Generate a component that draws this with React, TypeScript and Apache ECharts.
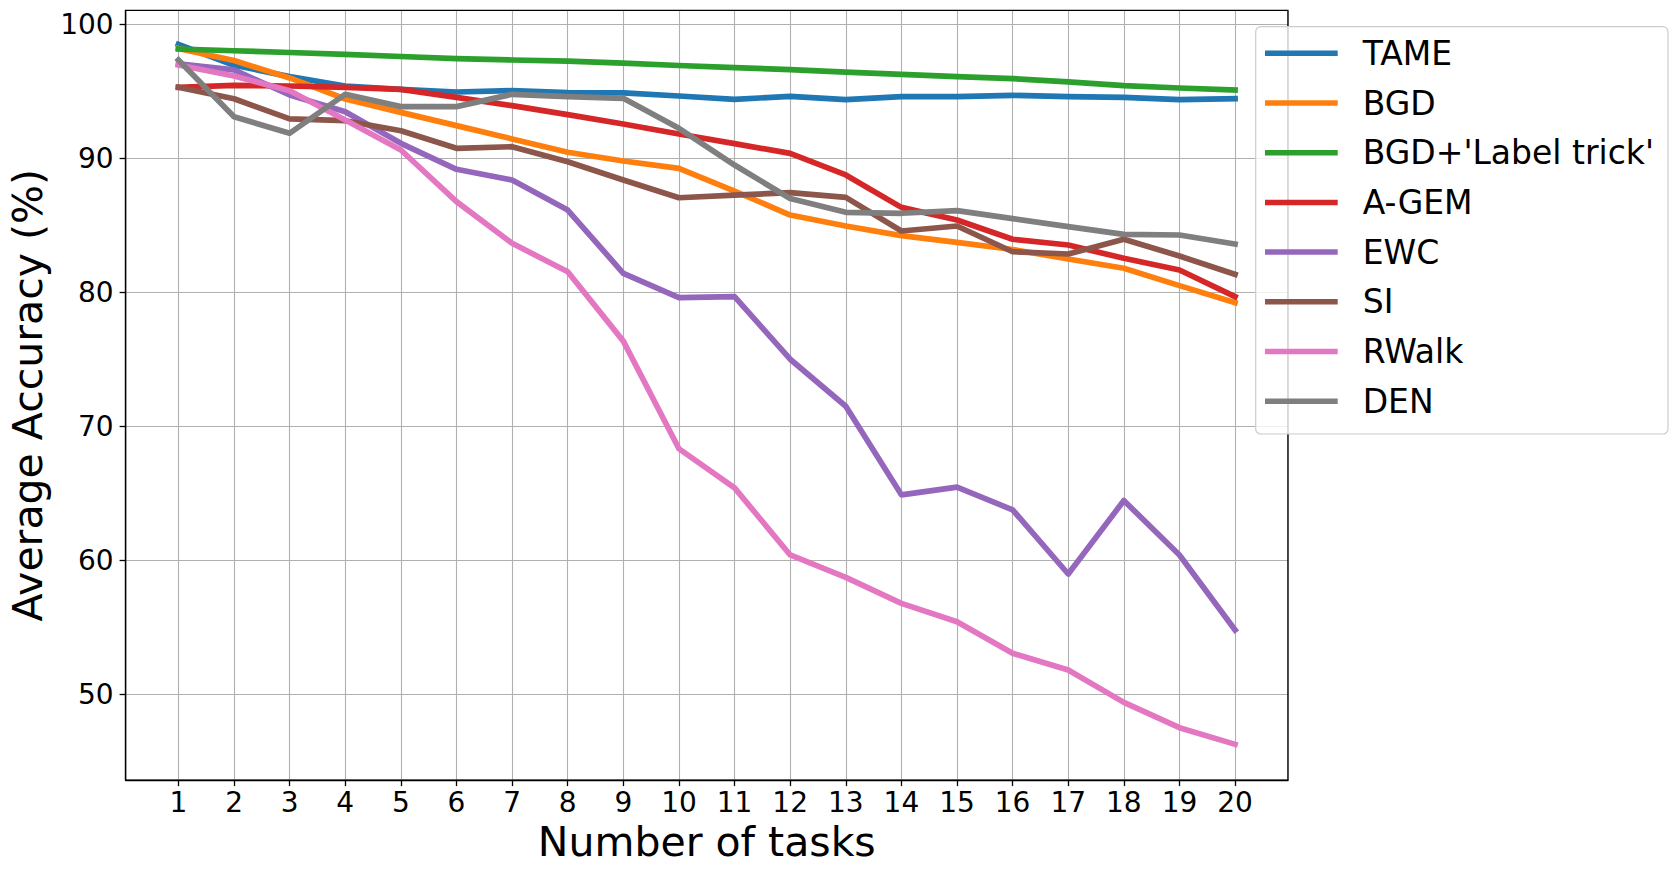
import React, { useEffect, useRef } from "react";
import * as echarts from "echarts";

const tasks = [1, 2, 3, 4, 5, 6, 7, 8, 9, 10, 11, 12, 13, 14, 15, 16, 17, 18, 19, 20];

const seriesNames = ["TAME", "BGD", "BGD+'Label trick'", "A-GEM", "EWC", "SI", "RWalk", "DEN"];
const seriesColors = ["#1f77b4", "#ff7f0e", "#2ca02c", "#d62728", "#9467bd", "#8c564b", "#e377c2", "#7f7f7f"];

const tame = [98.5, 96.95, 96.1, 95.4, 95.15, 94.95, 95.05, 94.9, 94.88, 94.65, 94.4, 94.63, 94.38, 94.6, 94.6, 94.7, 94.6, 94.55, 94.38, 94.45];
const bgd = [98.2, 97.3, 96.0, 94.43, 93.43, 92.44, 91.45, 90.45, 89.8, 89.25, 87.56, 85.77, 84.95, 84.23, 83.73, 83.2, 82.49, 81.8, 80.5, 79.23];
const bgdLabel = [98.16, 98.03, 97.9, 97.76, 97.6, 97.44, 97.34, 97.26, 97.1, 96.93, 96.77, 96.62, 96.44, 96.27, 96.1, 95.95, 95.7, 95.42, 95.25, 95.1];
const agem = [95.3, 95.45, 95.4, 95.3, 95.15, 94.55, 93.93, 93.26, 92.56, 91.82, 91.1, 90.37, 88.76, 86.34, 85.4, 83.96, 83.53, 82.54, 81.67, 79.68];
const ewc = [97.05, 96.6, 94.73, 93.48, 91.12, 89.18, 88.38, 86.14, 81.42, 79.6, 79.68, 75.01, 71.5, 64.89, 65.46, 63.77, 58.98, 64.46, 60.4, 54.8];
const si = [95.3, 94.45, 92.94, 92.81, 92.06, 90.75, 90.87, 89.75, 88.38, 87.06, 87.26, 87.44, 87.09, 84.58, 84.95, 83.03, 82.86, 83.96, 82.71, 81.34];
const rwalk = [96.97, 96.14, 95.05, 92.86, 90.62, 86.77, 83.66, 81.54, 76.36, 68.33, 65.41, 60.4, 58.73, 56.79, 55.42, 53.06, 51.82, 49.4, 47.51, 46.27];
const den = [97.34, 93.1, 91.87, 94.78, 93.86, 93.86, 94.78, 94.6, 94.48, 92.24, 89.5, 87.0, 85.97, 85.9, 86.1, 85.5, 84.9, 84.33, 84.28, 83.6];

const seriesValues = [tame, bgd, bgdLabel, agem, ewc, si, rwalk, den];

const xTitle = "Number of tasks";
const yTitle = "Average Accuracy (%)";

const FONT = "DejaVu Sans";

export default function App() {
  const ref = useRef<HTMLDivElement>(null);

  useEffect(() => {
    if (!ref.current) return;
    const chart = echarts.init(ref.current, null, { renderer: "svg" });

    const gridLeft = 125.6;
    const gridRight = 1287.9;
    const gridTop = 10.4;
    const gridBottom = 780.1;

    const option: any = {
      animation: false,
      backgroundColor: "#ffffff",
      color: seriesColors,
      grid: {
        left: gridLeft,
        top: gridTop,
        width: gridRight - gridLeft,
        height: gridBottom - gridTop,
        show: true,
        borderColor: "#000000",
        borderWidth: 1.3,
        backgroundColor: "transparent",
        z: 10,
      },
      xAxis: {
        type: "value",
        min: 0.05,
        max: 20.95,
        minInterval: 1,
        maxInterval: 1,
        splitNumber: 20,
        axisLine: { show: true, onZero: false, lineStyle: { color: "#000", width: 1.3 } },
        axisTick: { show: true, length: 6, lineStyle: { color: "#000", width: 1.3 } },
        axisLabel: {
          show: true,
          margin: 8,
          fontFamily: FONT,
          fontSize: 28,
          lineHeight: 28,
          color: "#000",
          showMinLabel: false,
          showMaxLabel: false,
          formatter: (v: number) => (Math.abs(v - Math.round(v)) < 1e-6 ? String(Math.round(v)) : ""),
        },
        splitLine: { show: true, lineStyle: { color: "#b0b0b0", width: 1.1 } },
      },
      yAxis: {
        type: "value",
        min: 43.6,
        max: 101.04,
        minInterval: 10,
        maxInterval: 10,
        splitNumber: 6,
        axisLine: { show: true, onZero: false, lineStyle: { color: "#000", width: 1.3 } },
        axisTick: { show: true, length: 6, lineStyle: { color: "#000", width: 1.3 } },
        axisLabel: {
          show: true,
          margin: 12,
          fontFamily: FONT,
          fontSize: 28,
          color: "#000",
          showMinLabel: false,
          showMaxLabel: false,
          formatter: (v: number) => (Math.abs(v % 10) < 1e-6 ? String(Math.round(v)) : ""),
        },
        splitLine: { show: true, lineStyle: { color: "#b0b0b0", width: 1.1 } },
      },
      legend: {
        orient: "vertical",
        left: 1255.7,
        top: 26.7,
        padding: [10.1, 14, 16.3, 9.3],
        backgroundColor: "rgba(255,255,255,0.8)",
        borderColor: "#cccccc",
        borderWidth: 1.2,
        borderRadius: 5,
        itemWidth: 72.7,
        itemHeight: 5.5,
        itemGap: 16.7,
        icon: "rect",
        data: seriesNames,
        textStyle: {
          fontFamily: FONT,
          fontSize: 33,
          lineHeight: 33,
          color: "#000",
          padding: [0, 0, 0, 20],
        },
        z: 20,
      },
      series: seriesNames.map((name, i) => ({
        name,
        type: "line",
        data: tasks.map((t, j) => [t, seriesValues[i][j]]),
        symbol: "none",
        showSymbol: false,
        lineStyle: { width: 5.7, color: seriesColors[i], join: "round", cap: "square" },
        itemStyle: { color: seriesColors[i] },
        emphasis: { disabled: true },
        z: 2,
        clip: true,
      })),
      graphic: [
        {
          type: "text",
          x: (gridLeft + gridRight) / 2,
          y: 842,
          style: {
            text: xTitle,
            fontFamily: FONT,
            fontSize: 41,
            fill: "#000",
            textAlign: "center",
            textVerticalAlign: "middle",
          },
        },
        {
          type: "text",
          x: 28,
          y: (gridTop + gridBottom) / 2,
          rotation: Math.PI / 2,
          style: {
            text: yTitle,
            fontFamily: FONT,
            fontSize: 41,
            fill: "#000",
            textAlign: "center",
            textVerticalAlign: "middle",
          },
        },
      ],
    };

    chart.setOption(option);
    return () => {
      chart.dispose();
    };
  }, []);

  return (
    <div
      ref={ref}
      style={{ position: "fixed", left: 0, top: 0, width: "1679px", height: "876px", background: "#fff" }}
    />
  );
}
